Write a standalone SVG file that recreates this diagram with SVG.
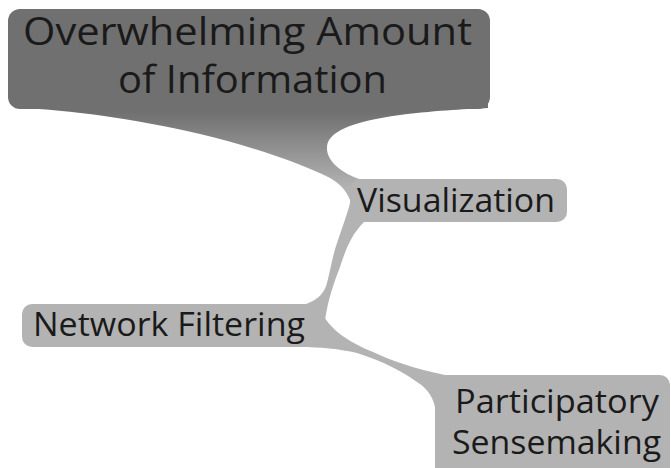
<svg xmlns="http://www.w3.org/2000/svg" width="671" height="468" viewBox="0 0 671 468">
  <style>
    .dark { fill: #707070; }
    .light { fill: #b3b3b3; }
    .conn { fill: #b3b3b3; }
    text { font-family: "Open Sans", "Liberation Sans", sans-serif; fill: #1a1a1a; }
    .big { font-size: 38px; }
    .mid { font-size: 32px; }
  </style>
  <defs>
    <linearGradient id="g1" gradientUnits="userSpaceOnUse" x1="0" y1="112" x2="0" y2="188">
      <stop offset="0" stop-color="#707070"/>
      <stop offset="1" stop-color="#b3b3b3"/>
    </linearGradient>
  </defs>
  <g id="connectors">
    <path id="c1" fill="url(#g1)" d="M 20,100 L 20,108 C 70,110 130,118 200,134 C 250,146 300,163 330,178 C 340,184 346,190 350,200 L 375,200 L 375,182 L 362,180 C 340,173 326,160 327,147 C 328,132 350,122 400,115 C 440,110 470,109 488,108 L 488,100 Z"/>
    <path id="c2" class="conn" d="M 352,196 C 348,212 342,228 337,243 C 332,258 330,272 327,283 C 325,292 318,300 306,304 L 310,325 L 325,320 C 328,300 333,285 340,267 C 345,252 350,236 364,222 L 364,205 Z"/>
    <path id="c3" class="conn" d="M 312,312 L 325,318 C 332,330 350,343 373,352 C 390,360 415,369 445,375 L 445,420 L 436,412 C 434,398 428,390 420,384 C 405,373 385,362 357,353 C 340,349 320,347 300,347 L 300,330 Z"/>
  </g>
  <g id="node-overwhelming">
    <rect class="dark" x="8" y="9" width="482" height="100" rx="12"/>
    <text class="big" x="23" y="45" textLength="449" lengthAdjust="spacingAndGlyphs">Overwhelming Amount</text>
    <text class="big" x="118" y="93" textLength="269" lengthAdjust="spacingAndGlyphs">of Information</text>
  </g>
  <g id="node-visualization">
    <rect class="light" x="350" y="179" width="217" height="43" rx="10"/>
    <text class="mid" x="357" y="212" textLength="198" lengthAdjust="spacingAndGlyphs">Visualization</text>
  </g>
  <g id="node-network">
    <rect class="light" x="22" y="304" width="298" height="43" rx="10"/>
    <text class="mid" x="33" y="336" textLength="272" lengthAdjust="spacingAndGlyphs">Network Filtering</text>
  </g>
  <g id="node-participatory">
    <rect class="light" x="435" y="375" width="235" height="110" rx="10"/>
    <text class="mid" x="455" y="413" textLength="204" lengthAdjust="spacingAndGlyphs">Participatory</text>
    <text class="mid" x="452" y="454" textLength="209" lengthAdjust="spacingAndGlyphs">Sensemaking</text>
  </g>
</svg>
